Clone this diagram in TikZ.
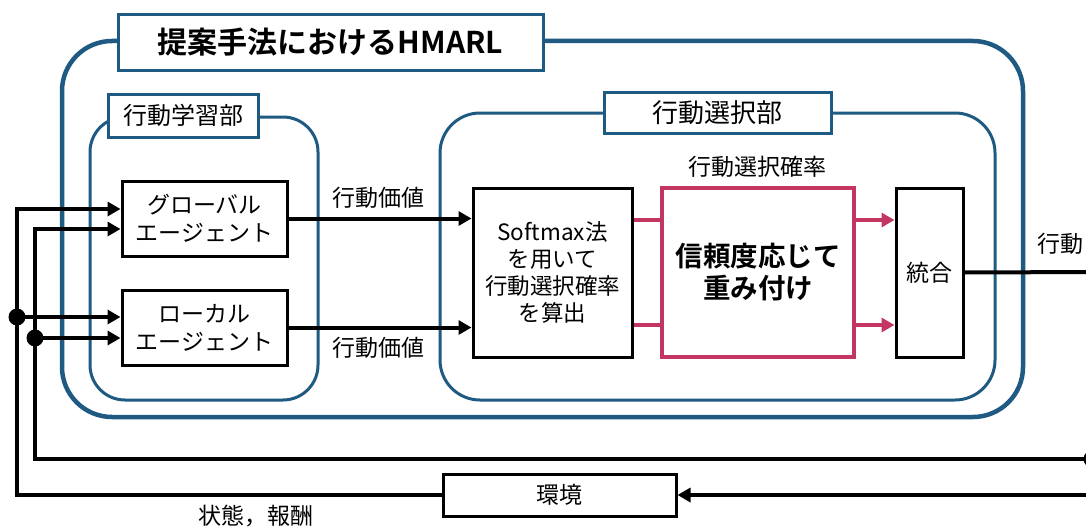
\documentclass[tikz,border=0pt]{standalone}
\usepackage{fontspec}
\setmainfont{Noto Sans CJK JP}[BoldFont={Noto Sans CJK JP Bold}]
\usetikzlibrary{arrows.meta}
\definecolor{hblue}{RGB}{31,90,130}
\definecolor{hpink}{RGB}{196,54,98}
\begin{document}
\begin{tikzpicture}[x=1pt,y=-1pt,
  txt/.style={font=\fontsize{23}{28}\selectfont},
  frame/.style={draw=hblue,line width=#1,inner sep=0pt,fill=white},
  frame/.default=3pt,
  lbl/.style={draw=hblue,line width=3pt,fill=white,inner sep=0pt,align=center},
  blk/.style={draw=black,line width=3pt,fill=white,inner sep=0pt,align=center,txt},
  arr/.style={draw=black,line width=4pt,-{Triangle[length=13pt,width=14pt]}},
  wire/.style={draw=black,line width=4pt},
  pline/.style={draw=hpink,line width=4pt},
  parr/.style={draw=hpink,line width=4pt,-{Triangle[length=13pt,width=14pt]}},
  dot/.style={circle,fill=black,inner sep=0pt,minimum size=17pt}]
\clip (0,0) rectangle (1086,527);
\fill[white] (0,0) rectangle (1086,527);
% containers
\node[frame=4.5pt,rounded corners=50pt,minimum width=961pt,minimum height=376pt] (outer) at (542.5,229) {};
\node[lbl,minimum width=425pt,minimum height=55pt,font=\fontsize{30}{36}\selectfont\bfseries] (title) at (330.5,42.5) {提案手法におけるHMARL};
\node[frame,rounded corners=35pt,minimum width=228pt,minimum height=283pt] (learn) at (204,258.5) {};
\node[lbl,minimum width=150pt,minimum height=43pt,font=\fontsize{24}{28}\selectfont] (learnlbl) at (183,115.5) {行動学習部};
\node[frame,rounded corners=40pt,minimum width=555pt,minimum height=287pt] (select) at (717.5,256.5) {};
\node[lbl,minimum width=227pt,minimum height=41pt,font=\fontsize{26}{30}\selectfont] (selectlbl) at (717.5,112.5) {行動選択部};
% blocks
\node[blk,minimum width=165pt,minimum height=75pt] (global) at (204.5,218.5) {グローバル\\エージェント};
\node[blk,minimum width=165pt,minimum height=75pt] (local) at (204.5,327.5) {ローカル\\エージェント};
\node[blk,minimum width=159pt,minimum height=169pt,font=\fontsize{22.5}{27}\selectfont] (soft) at (552.5,272.5) {Softmax法\\を用いて\\行動選択確率\\を算出};
\node[blk,draw=hpink,line width=4pt,minimum width=192pt,minimum height=169pt,font=\fontsize{27.5}{32}\selectfont\bfseries] (weight) at (758,272.5) {信頼度応じて\\重み付け};
\node[blk,minimum width=67pt,minimum height=169pt] (integ) at (929.5,272.5) {統合};
\node[blk,minimum width=233pt,minimum height=42pt] (env) at (559.5,495) {環境};
% labels
\node[txt] (lv1) at (378,198) {行動価値};
\node[txt] (lv2) at (378,348) {行動価値};
\node[txt] (lp) at (757,167) {行動選択確率};
\node[txt,anchor=west] (la) at (1034,244) {行動};
\node[txt] (lsr) at (256,516) {状態，報酬};
% connectors
\draw[arr] (global.east) -- (global.east -| soft.west);
\draw[arr] (local.east) -- (local.east -| soft.west);
\draw[pline] ([yshift=52.5pt]soft.east) -- ([yshift=52.5pt]soft.east -| weight.west);
\draw[pline] ([yshift=-52.5pt]soft.east) -- ([yshift=-52.5pt]soft.east -| weight.west);
\draw[parr] ([yshift=52.5pt]weight.east) -- ([yshift=52.5pt]weight.east -| integ.west);
\draw[parr] ([yshift=-52.5pt]weight.east) -- ([yshift=-52.5pt]weight.east -| integ.west);
\coordinate (outR) at (1095,272);
\draw[wire] (integ.east) -- (outR);
% feedback
\coordinate (fbA) at (1092,459);
\coordinate (fbB) at (1095,495);
\node[dot] (dA) at (fbA) {};
\coordinate (xA) at (35,459);
\coordinate (xB) at (17,495);
\node[dot] (d1) at (17,317) {};
\node[dot] (d2) at (35,338) {};
\draw[wire,line join=miter] (dA.center) -- (xA) -- (35,229) -- ++(10,0);
\draw[arr] (35,229) -- ([yshift=-10.5pt]global.west);
\draw[arr] (d2.center) -- ([yshift=-10.5pt]local.west);
\draw[arr] (fbB) -- (env.east);
\draw[wire,line join=miter] (env.west) -- (xB) -- (17,209) -- ++(10,0);
\draw[arr] (17,209) -- ([yshift=9.5pt]global.west);
\draw[arr] (d1.center) -- ([yshift=10.5pt]local.west);
\end{tikzpicture}
\end{document}
